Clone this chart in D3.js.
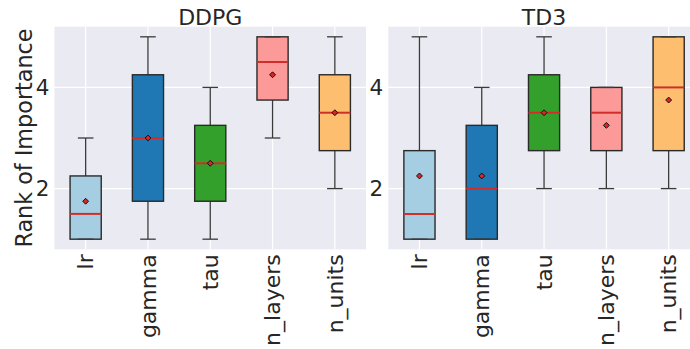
<!DOCTYPE html>
<html>
<head>
<meta charset="utf-8">
<script src="https://cdn.jsdelivr.net/npm/d3@7"></script>
<style>
  html, body { margin: 0; padding: 0; background: #fff; }
  svg { display: block; }
  text { font-family: "DejaVu Sans", sans-serif; fill: #262626; }
</style>
</head>
<body>
<svg id="chart" width="690" height="349"></svg>
<script>
// Hyperparameter categories and box colours
const categories = ["lr", "gamma", "tau", "n_layers", "n_units"];
const boxColors = ["#a6cee3", "#1f78b4", "#33a02c", "#fb9a99", "#fdbf6f"];
const yTicks = [2, 4];

// DDPG rank statistics per hyperparameter
const ddpgLow  = [1, 1, 1, 3, 2];
const ddpgQ1   = [1, 1.75, 1.75, 3.75, 2.75];
const ddpgMed  = [1.5, 3, 2.5, 4.5, 3.5];
const ddpgQ3   = [2.25, 4.25, 3.25, 5, 4.25];
const ddpgHigh = [3, 5, 4, 5, 5];
const ddpgMean = [1.75, 3, 2.5, 4.25, 3.5];

// TD3 rank statistics per hyperparameter
const td3Low  = [1, 1, 2, 2, 2];
const td3Q1   = [1, 1, 2.75, 2.75, 2.75];
const td3Med  = [1.5, 2, 3.5, 3.5, 4];
const td3Q3   = [2.75, 3.25, 4.25, 4, 5];
const td3High = [5, 4, 5, 4, 5];
const td3Mean = [2.25, 2.25, 3.5, 3.25, 3.75];

function buildRows(low, q1, med, q3, high, mean) {
  return categories.map((c, i) => ({
    cat: c, color: boxColors[i],
    low: low[i], q1: q1[i], med: med[i], q3: q3[i], high: high[i], mean: mean[i]
  }));
}

const panels = [
  { title: "DDPG", left: 54.5, rows: buildRows(ddpgLow, ddpgQ1, ddpgMed, ddpgQ3, ddpgHigh, ddpgMean) },
  { title: "TD3", left: 388.3, rows: buildRows(td3Low, td3Q1, td3Med, td3Q3, td3High, td3Mean) }
];

const svg = d3.select("#chart");
const panelW = 311.5;
const plotTop = 26.7, plotBottom = 249.3;

const y = d3.scaleLinear().domain([0.8, 5.2]).range([plotBottom, plotTop]);

panels.forEach(p => {
  const x = d3.scaleBand().domain(categories).range([p.left, p.left + panelW]).padding(0);
  const bw = x.bandwidth();
  const cx = d => x(d) + bw / 2;
  const g = svg.append("g");

  // panel background
  g.append("rect")
    .attr("x", p.left).attr("y", plotTop)
    .attr("width", panelW).attr("height", plotBottom - plotTop)
    .attr("fill", "#eaeaf2");

  // grid
  g.selectAll("line.hgrid").data(yTicks).join("line")
    .attr("x1", p.left).attr("x2", p.left + panelW)
    .attr("y1", d => y(d)).attr("y2", d => y(d))
    .attr("stroke", "#fff").attr("stroke-width", 1.2);
  g.selectAll("line.vgrid").data(categories).join("line")
    .attr("x1", d => cx(d)).attr("x2", d => cx(d))
    .attr("y1", plotTop).attr("y2", plotBottom)
    .attr("stroke", "#fff").attr("stroke-width", 1.2);

  // title
  g.append("text")
    .attr("x", p.left + panelW / 2).attr("y", 25)
    .attr("text-anchor", "middle")
    .style("font-size", "22px")
    .text(p.title);

  // y axis
  const yAxis = g.append("g")
    .attr("transform", `translate(${p.left},0)`)
    .call(d3.axisLeft(y).tickValues(yTicks).tickSize(0).tickPadding(5).tickFormat(d3.format("d")));
  yAxis.select(".domain").remove();
  yAxis.selectAll("text").style("font-size", "21.5px").attr("fill", "#262626");

  // x axis with rotated labels
  const xAxis = g.append("g")
    .attr("transform", `translate(0,${plotBottom})`)
    .call(d3.axisBottom(x).tickSize(0));
  xAxis.select(".domain").remove();
  xAxis.selectAll("text")
    .style("font-size", "22px").attr("fill", "#262626")
    .attr("text-anchor", "end")
    .attr("transform", "rotate(-90)")
    .attr("x", -5).attr("y", 0).attr("dy", "0.35em");

  const boxW = bw * 0.5, capW = bw * 0.25;
  const boxes = g.selectAll("g.box").data(p.rows).join("g").attr("class", "box");

  // whiskers
  boxes.append("line")
    .attr("x1", d => cx(d.cat)).attr("x2", d => cx(d.cat))
    .attr("y1", d => y(d.q3)).attr("y2", d => y(d.high))
    .attr("stroke", "#3a3a3a").attr("stroke-width", 1.3);
  boxes.append("line")
    .attr("x1", d => cx(d.cat)).attr("x2", d => cx(d.cat))
    .attr("y1", d => y(d.q1)).attr("y2", d => y(d.low))
    .attr("stroke", "#3a3a3a").attr("stroke-width", 1.3);

  // box
  boxes.append("rect")
    .attr("x", d => cx(d.cat) - boxW / 2)
    .attr("y", d => y(d.q3))
    .attr("width", boxW)
    .attr("height", d => y(d.q1) - y(d.q3))
    .attr("fill", d => d.color)
    .attr("stroke", "#2a2a2a").attr("stroke-width", 1.4);

  // caps
  boxes.append("line")
    .attr("x1", d => cx(d.cat) - capW / 2).attr("x2", d => cx(d.cat) + capW / 2)
    .attr("y1", d => y(d.high)).attr("y2", d => y(d.high))
    .attr("stroke", "#3a3a3a").attr("stroke-width", 1.3);
  boxes.append("line")
    .attr("x1", d => cx(d.cat) - capW / 2).attr("x2", d => cx(d.cat) + capW / 2)
    .attr("y1", d => y(d.low)).attr("y2", d => y(d.low))
    .attr("stroke", "#3a3a3a").attr("stroke-width", 1.3);

  // median
  boxes.append("line")
    .attr("x1", d => cx(d.cat) - boxW / 2).attr("x2", d => cx(d.cat) + boxW / 2)
    .attr("y1", d => y(d.med)).attr("y2", d => y(d.med))
    .attr("stroke", "#cf2e2b").attr("stroke-width", 2);

  // mean marker
  boxes.append("path")
    .attr("d", d3.symbol(d3.symbolDiamond2, 22))
    .attr("transform", d => `translate(${cx(d.cat)},${y(d.mean)})`)
    .attr("fill", "#d62728").attr("stroke", "#111").attr("stroke-width", 1);
});

// y axis label
svg.append("text")
  .attr("transform", `translate(32,${(plotTop + plotBottom) / 2}) rotate(-90)`)
  .attr("text-anchor", "middle")
  .style("font-size", "22.3px")
  .text("Rank of Importance");
</script>
</body>
</html>
